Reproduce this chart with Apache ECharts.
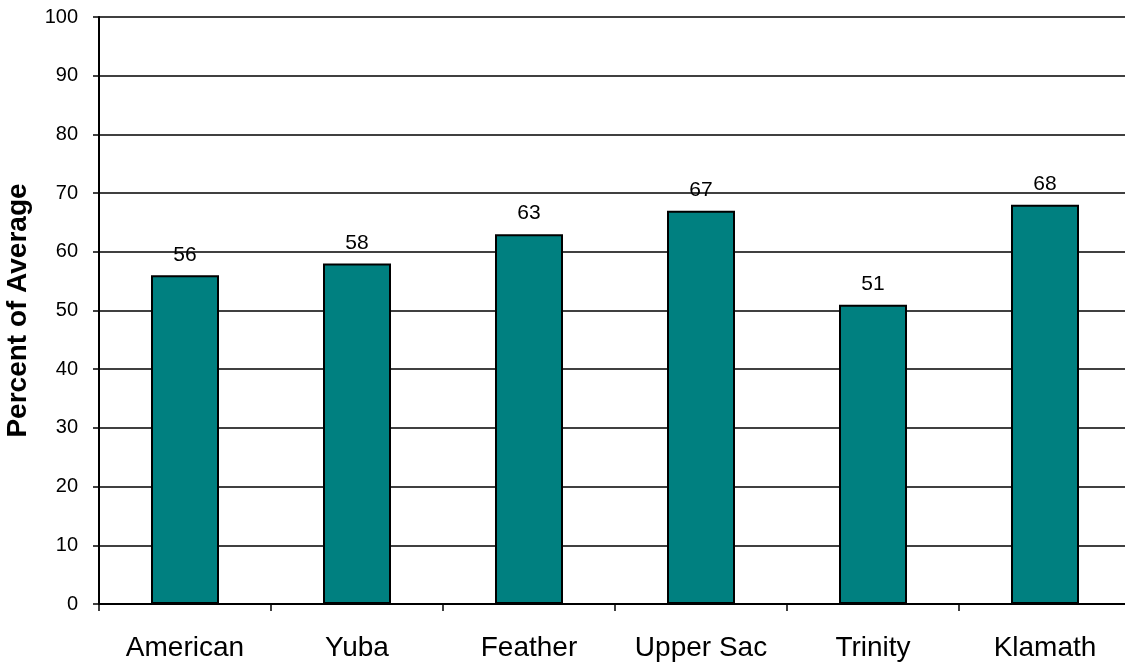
<!DOCTYPE html>
<html>
<head>
<meta charset="utf-8">
<script src="https://cdn.jsdelivr.net/npm/echarts@6/dist/echarts.min.js"></script>
<style>
html, body { margin: 0; padding: 0; background: #fff; }
#chartmain { width: 1125px; height: 666px; }
</style>
</head>
<body>
<div id="chartmain"></div>
<script>
var cate = ['American', 'Yuba', 'Feather', 'Upper Sac', 'Trinity', 'Klamath'];
var pct = [56, 58, 63, 67, 51, 68];
var yTicks = [0, 10, 20, 30, 40, 50, 60, 70, 80, 90, 100];

var font = 'Arial, "Liberation Sans", sans-serif';

var option = {
	animation : false,
	grid : {
		left : 99,
		top : 17,
		width : 1032,
		height : 587,
		outerBoundsMode : 'none'
	},
	xAxis : [ {
		type : 'category',
		data : cate,
		axisLine : { lineStyle : { color : '#000', width : 2 } },
		axisTick : { show : true, length : 7, lineStyle : { color : '#000', width : 1.5 } },
		axisLabel : { color : '#000', fontSize : 28, fontFamily : font, margin : 30 }
	} ],
	yAxis : [ {
		type : 'value',
		min : yTicks[0],
		max : yTicks[yTicks.length - 1],
		interval : 10,
		name : 'Percent of Average',
		nameLocation : 'middle',
		nameGap : 67,
		nameRotate : 90,
		nameTextStyle : { color : '#000', fontSize : 28, fontWeight : 'bold', fontFamily : font },
		axisLine : { show : true, lineStyle : { color : '#000', width : 2 } },
		axisTick : { show : true, length : 6, lineStyle : { color : '#000', width : 1.5 } },
		axisLabel : { color : '#000', fontSize : 20, fontFamily : font, margin : 21 },
		splitLine : { show : true, lineStyle : { color : '#000', width : 1.5 } }
	} ],
	series : [ {
		name : 'Percent of Average',
		type : 'bar',
		data : pct,
		barWidth : 68,
		itemStyle : { color : '#008080', borderColor : '#000', borderWidth : 2 },
		label : {
			show : true,
			position : 'top',
			distance : 10,
			color : '#000',
			fontSize : 21,
			fontFamily : font
		}
	} ]
};

var myChart = echarts.init(document.getElementById('chartmain'));
myChart.setOption(option);
</script>
</body>
</html>
